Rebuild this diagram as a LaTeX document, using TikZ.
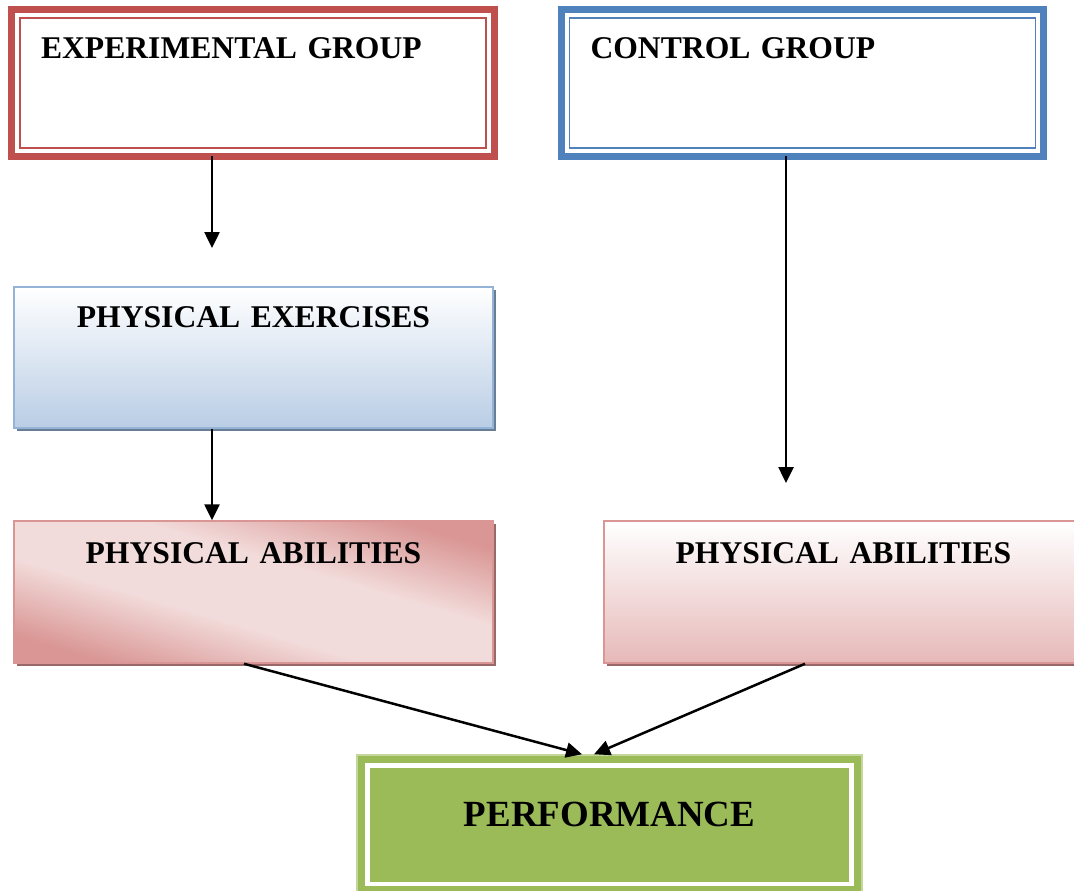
\documentclass[tikz,border=0pt]{standalone}
\usepackage{fontspec}
\setmainfont{Liberation Serif}
\usetikzlibrary{arrows.meta,shadows,calc}

\definecolor{grpred}{HTML}{C0504D}
\definecolor{grpblue}{HTML}{4F81BD}
\definecolor{exblue}{HTML}{B9CDE5}
\definecolor{exline}{HTML}{95B3D7}
\definecolor{abpink}{HTML}{D99694}
\definecolor{ablight}{HTML}{F2DCDB}
\definecolor{abrose}{HTML}{E6B9B8}
\definecolor{perfgreen}{HTML}{9BBB59}

\pgfdeclareverticalshading{abdiag}{100bp}{color(0bp)=(abpink); color(25bp)=(abpink);
	color(42bp)=(ablight); color(58bp)=(ablight); color(75bp)=(abpink); color(100bp)=(abpink)}

\tikzset{
	grp/.style={draw=#1, line width=0.14cm, outer sep=0pt, text width=8.48cm, inner xsep=0.59cm, inner ysep=0pt,
		align=left, text height=0.97cm, text depth=1.97cm, font=\fontsize{18}{20}\selectfont\bfseries},
	stage/.style={line width=0.03cm, text width=9.58cm, inner sep=0pt, align=center,
		font=\fontsize{18}{20}\selectfont\bfseries},
	arr/.style={-{Triangle[length=0.32cm,width=0.3cm]}, line width=0.05cm}
}

\begin{document}
\begin{tikzpicture}[x=0.02cm,y=-0.02cm]
	\path[use as bounding box] (0,0) rectangle (1074,890);
	\clip (0,0) rectangle (1074,890);

	\node[grp=grpred] (eg) at (253,83) {EXPERIMENTAL GROUP};
	\node[grp=grpblue] (cg) at (802.5,83) {CONTROL GROUP};
	\draw[grpred, line width=0.035cm] ($(eg.north west)+(8.5,8.5)$) rectangle ($(eg.south east)+(-8.5,-8.5)$);
	\draw[grpblue, line width=0.035cm] ($(cg.north west)+(8.5,8.5)$) rectangle ($(cg.south east)+(-8.5,-8.5)$);

	\node[stage, draw=exline, top color=white, bottom color=exblue,
		drop shadow={shadow xshift=0.06cm, shadow yshift=-0.06cm, fill=exline!70!black, opacity=1},
		text height=0.8cm, text depth=2.02cm] (pe) at (253.5,357.5) {PHYSICAL EXERCISES};
	\node[stage, draw=abpink, shading=abdiag, shading angle=-16.5,
		drop shadow={shadow xshift=0.06cm, shadow yshift=-0.06cm, fill=abpink!70!black, opacity=1},
		text height=0.84cm, text depth=2cm] (pal) at (253.5,592) {PHYSICAL ABILITIES};
	\node[stage, draw=abpink, top color=white, bottom color=abrose,
		drop shadow={shadow xshift=0.06cm, shadow yshift=-0.06cm, fill=abpink!70!black, opacity=1},
		text height=0.84cm, text depth=2cm] (par) at (843.5,592) {PHYSICAL ABILITIES};

	\node[stage, draw=perfgreen!60!white, fill=perfgreen, text width=10.1cm,
		text height=1.42cm, text depth=1.36cm, font=\fontsize{21}{24}\selectfont\bfseries] (perf) at (609.5,824.5) {PERFORMANCE};
	\draw[white, line width=0.09cm] ($(perf.north west)+(11,11)$) rectangle ($(perf.south east)+(-11,-11)$);

	\coordinate (eg1) at (212,248);
	\coordinate (cg1) at (786,483);
	\draw[arr] (eg.south -| eg1) -- (eg1);
	\draw[arr] (pe.south -| eg1) -- (pal.north -| eg1);
	\draw[arr] (cg.south -| cg1) -- (cg1);
	\draw[arr] ([xshift=-0.19cm]pal.south) -- ([xshift=-0.55cm]perf.north);
	\draw[arr] ([xshift=-0.77cm]par.south) -- ([xshift=-0.31cm]perf.north);
\end{tikzpicture}
\end{document}
